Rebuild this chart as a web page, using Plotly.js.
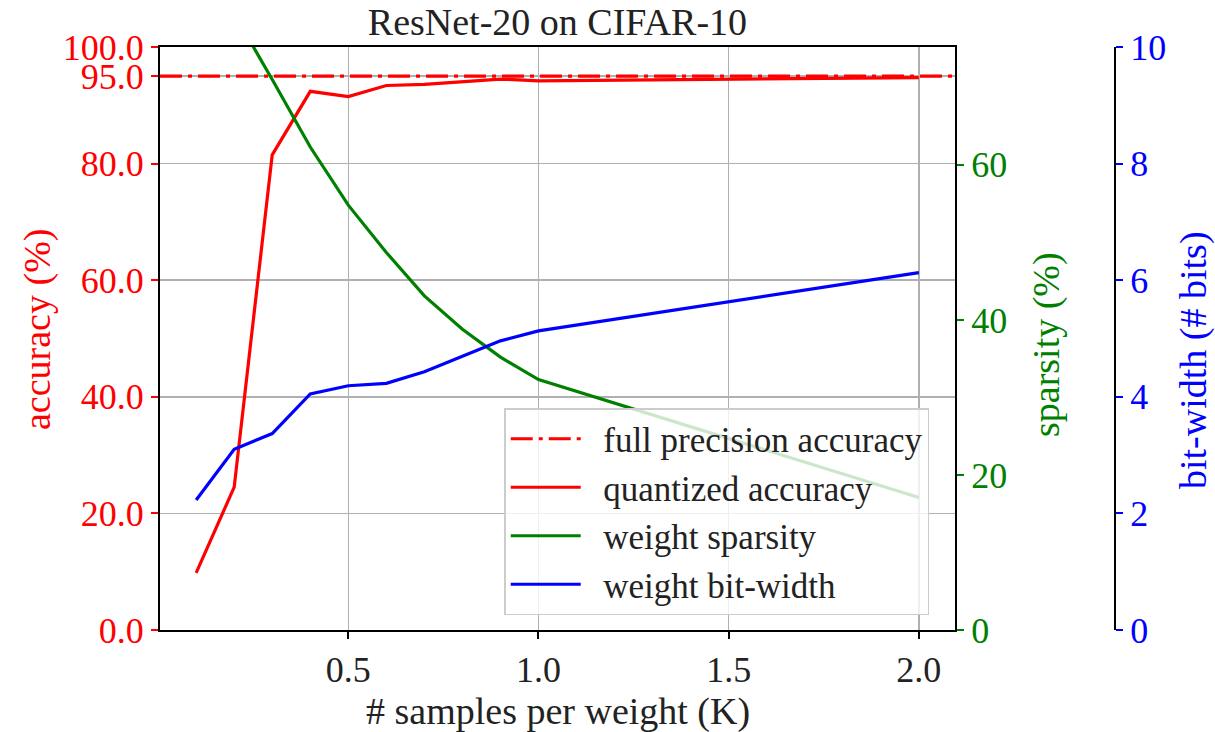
<!DOCTYPE html>
<html>
<head>
<meta charset="utf-8">
<script src="https://cdn.plot.ly/plotly-3.0.1.min.js"></script>
<style>html,body{margin:0;padding:0;background:#fff;}#chart{width:1215px;height:732px;}</style>
</head>
<body>
<div id="chart"></div>
<script>
// ---- data ----
const samplesK = [0.1, 0.2, 0.3, 0.4, 0.5, 0.6, 0.7, 0.8, 0.9, 1.0, 2.0];
const quantizedAcc = [9.8, 24.5, 81.5, 92.4, 91.5, 93.4, 93.6, 94.0, 94.5, 94.2, 94.75];
const weightSparsity = [87.0, 79.5, 71.0, 62.3, 54.8, 48.7, 43.1, 38.8, 35.2, 32.3, 17.1];
const weightBits = [2.23, 3.10, 3.37, 4.05, 4.19, 4.23, 4.43, 4.70, 4.96, 5.13, 6.13];
const fullPrecisionAcc = 95.0;
const xTicks = [0.5, 1.0, 1.5, 2.0];
const accTicks = [0, 20, 40, 60, 80, 95, 100];
const sparsityTicks = [0, 20, 40, 60];
const bitTicks = [0, 2, 4, 6, 8, 10];
const seriesNames = ['full precision accuracy', 'quantized accuracy', 'weight sparsity', 'weight bit-width'];

const xRange = [0.005, 2.095];
const FONT = '"Liberation Serif", "DejaVu Serif", serif';
const TICK_FS = 36, LABEL_FS = 38, TITLE_FS = 38, LEG_FS = 35;
const RED = '#ff0000', GREEN = '#008000', BLUE = '#0000ff';
const PAD = '\u00a0\u00a0';

const traces = [
  {x: xRange, y: [fullPrecisionAcc, fullPrecisionAcc], name: PAD + seriesNames[0], legendgroup: 'a',
   mode: 'lines', line: {color: RED, width: 3.2, dash: '22px,6px,4px,6px'}, xaxis: 'x', yaxis: 'y'},
  {x: samplesK, y: quantizedAcc, name: PAD + seriesNames[1], legendgroup: 'b',
   mode: 'lines', line: {color: RED, width: 3.2}, xaxis: 'x', yaxis: 'y'},
  {x: samplesK, y: weightSparsity, name: PAD + seriesNames[2], legendgroup: 'c',
   mode: 'lines', line: {color: GREEN, width: 3.2}, xaxis: 'x', yaxis: 'y2'},
  {x: samplesK, y: weightBits, name: PAD + seriesNames[3], legendgroup: 'd',
   mode: 'lines', line: {color: BLUE, width: 3.2}, xaxis: 'x', yaxis: 'y3'}
];

const commonAxis = {
  showline: true, linecolor: '#000', linewidth: 2, ticks: 'outside', ticklen: 7, tickwidth: 2,
  zeroline: false
};

const layout = {
  width: 1215, height: 732,
  margin: {l: 0, r: 0, t: 0, b: 0},
  paper_bgcolor: '#fff', plot_bgcolor: '#fff',
  font: {family: FONT, size: TICK_FS, color: '#000'},
  showlegend: true,
  title: {text: 'ResNet-20 on CIFAR-10', x: 0.4588, xref: 'paper', xanchor: 'center',
          y: 0.971, yref: 'paper', yanchor: 'middle', font: {family: FONT, size: TITLE_FS, color: '#222'}},
  xaxis: Object.assign({}, commonAxis, {
    domain: [0.1317, 0.786], range: xRange, tickvals: xTicks, tickformat: '.1f',
    tickcolor: '#000', tickfont: {family: FONT, size: TICK_FS, color: '#222'},
    mirror: true, showgrid: true, gridcolor: '#b0b0b0', gridwidth: 1.5
  }),
  yaxis: Object.assign({}, commonAxis, {
    domain: [0.1393, 0.9358], range: [0, 100], tickvals: accTicks, tickformat: '.1f',
    tickcolor: RED, tickfont: {family: FONT, size: TICK_FS, color: RED},
    mirror: true, showgrid: true, gridcolor: '#b0b0b0', gridwidth: 1.5
  }),
  yaxis2: Object.assign({}, commonAxis, {
    overlaying: 'y', side: 'right', anchor: 'x', range: [0, 75.2], tickvals: sparsityTicks,
    tickcolor: GREEN, tickfont: {family: FONT, size: TICK_FS, color: GREEN}, showgrid: false
  }),
  yaxis3: Object.assign({}, commonAxis, {
    overlaying: 'y', side: 'right', anchor: 'free', position: 0.9177, range: [0, 10], tickvals: bitTicks,
    tickcolor: BLUE, tickfont: {family: FONT, size: TICK_FS, color: BLUE}, showgrid: false
  }),
  legend: {
    x: 0.415, xanchor: 'left', y: 0.4426, yanchor: 'top', xref: 'paper', yref: 'paper',
    bgcolor: 'rgba(255,255,255,0.8)', bordercolor: '#cccccc', borderwidth: 1.5,
    font: {family: FONT, size: LEG_FS, color: '#222'}, tracegroupgap: 0, itemwidth: 70
  },
  annotations: [
    {text: 'accuracy (%)', xref: 'paper', yref: 'paper', x: 38/1215, y: 1 - 330/732,
     xanchor: 'center', yanchor: 'middle', textangle: -90, showarrow: false, font: {family: FONT, size: LABEL_FS, color: RED}},
    {text: 'sparsity (%)', xref: 'paper', yref: 'paper', x: 1046/1215, y: 1 - 345/732,
     xanchor: 'center', yanchor: 'middle', textangle: -90, showarrow: false, font: {family: FONT, size: LABEL_FS, color: GREEN}},
    {text: 'bit-width (# bits)', xref: 'paper', yref: 'paper', x: 1193/1215, y: 1 - 360/732,
     xanchor: 'center', yanchor: 'middle', textangle: -90, showarrow: false, font: {family: FONT, size: LABEL_FS, color: BLUE}},
    {text: '# samples per weight (K)', xref: 'x domain', yref: 'paper', x: 0.5, y: 1 - 711/732,
     xanchor: 'center', yanchor: 'middle', showarrow: false, font: {family: FONT, size: LABEL_FS, color: '#222'}}
  ]
};

Plotly.newPlot('chart', traces, layout, {displayModeBar: false, staticPlot: true});
</script>
</body>
</html>
